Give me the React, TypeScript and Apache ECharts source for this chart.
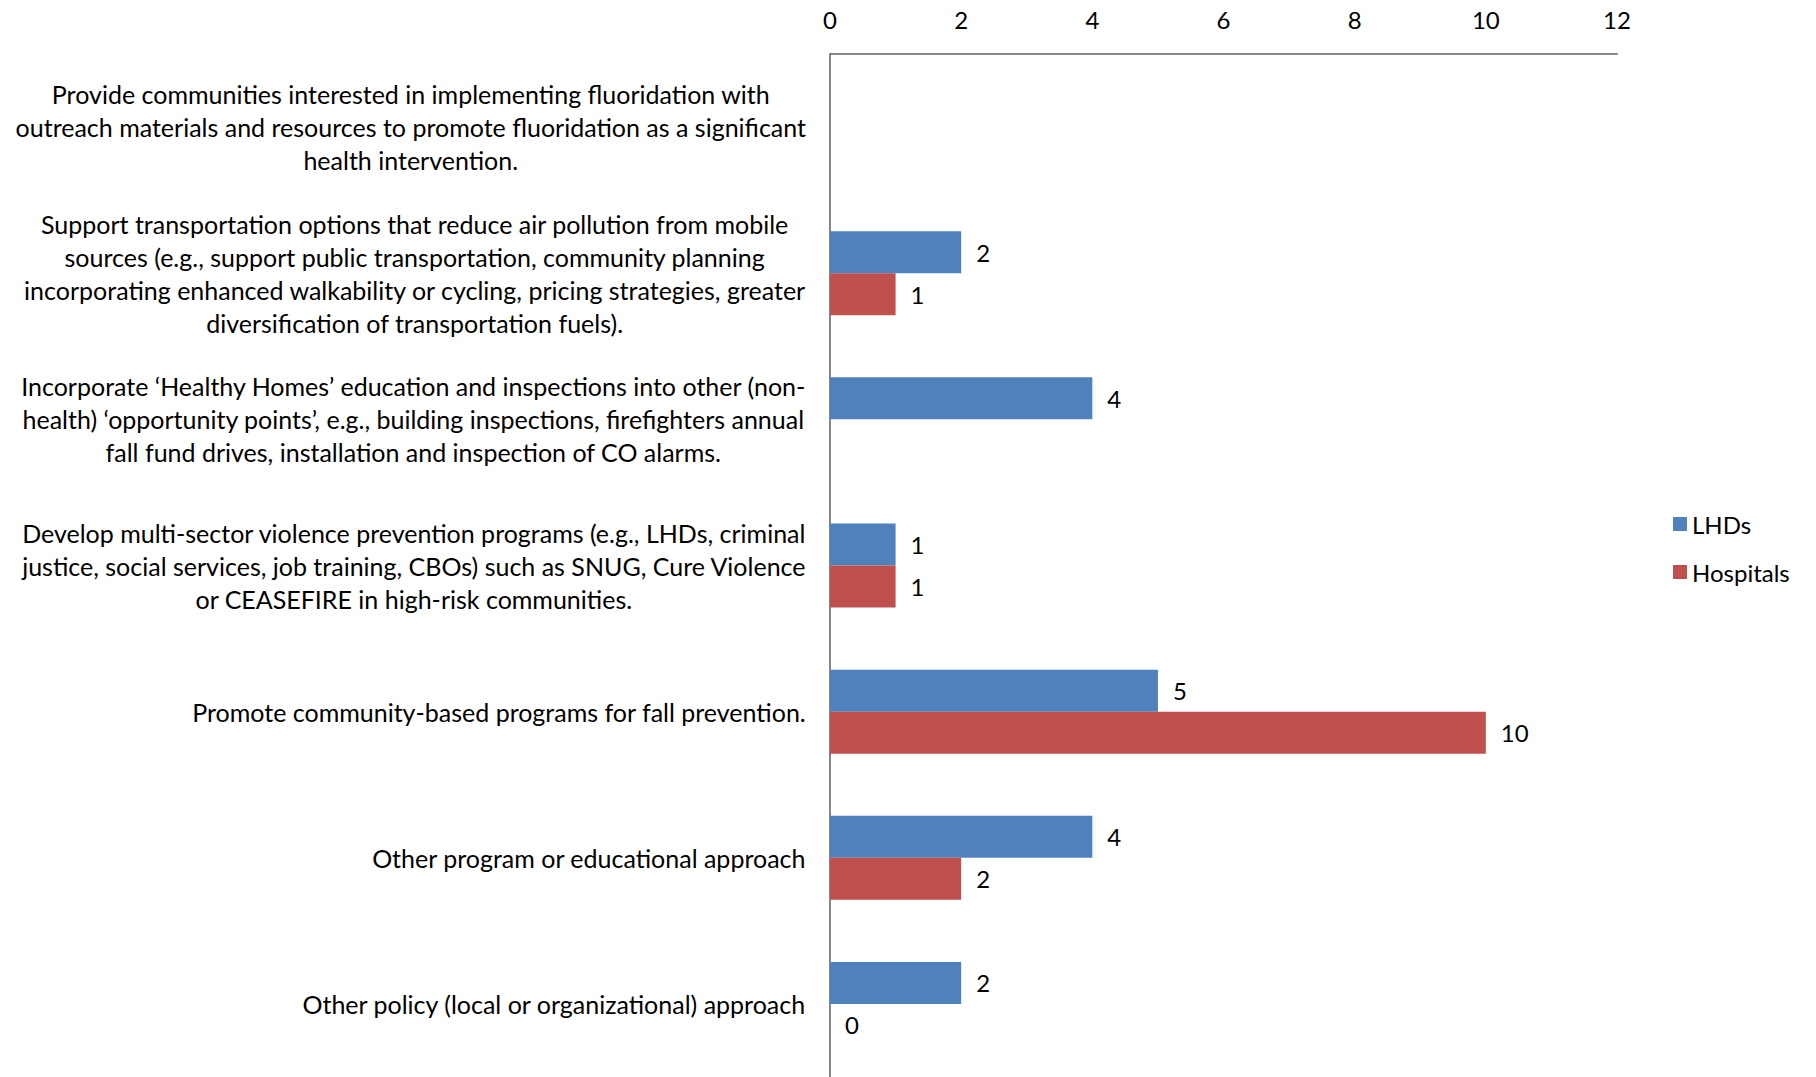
import React, { useEffect, useRef } from "react";
import * as echarts from "echarts";

const categories: string[] = [
  "Provide communities interested in implementing fluoridation with\noutreach materials and resources to promote fluoridation as a significant\nhealth intervention.",
  "Support transportation options that reduce air pollution from mobile\nsources (e.g., support public transportation, community planning\nincorporating enhanced walkability or cycling, pricing strategies, greater\ndiversification of transportation fuels).",
  "Incorporate \u2018Healthy Homes\u2019 education and inspections into other (non-\nhealth) \u2018opportunity points\u2019, e.g., building inspections, firefighters annual\nfall fund drives, installation and inspection of CO alarms.",
  "Develop multi-sector violence prevention programs (e.g., LHDs, criminal\njustice, social services, job training, CBOs) such as SNUG, Cure Violence\nor CEASEFIRE in high-risk communities.",
  "Promote community-based programs for fall prevention.",
  "Other program or educational approach",
  "Other policy (local or organizational) approach",
];

const lhds: (number | null)[] = [null, 2, 4, 1, 5, 4, 2];
const hospitals: (number | null)[] = [null, 1, null, 1, 10, 2, 0];

const xTicks = { min: 0, max: 12, interval: 2 };

const FONT = "Lato";
const FS = 24;
const CAT_FS = 25;

export default function App() {
  const ref = useRef<HTMLDivElement>(null);
  useEffect(() => {
    if (!ref.current) return;
    const chart = echarts.init(ref.current, undefined, { renderer: "svg" });
    const labelStyle = {
      show: true,
      position: "right" as const,
      distance: 15,
      color: "#000",
      fontFamily: FONT,
      fontSize: FS,
    };
    chart.setOption({
      animation: false,
      backgroundColor: "#fff",
      textStyle: { fontFamily: FONT },
      legend: {
        orient: "vertical",
        left: 1668,
        top: 507,
        itemWidth: 14,
        itemHeight: 14,
        itemGap: 24,
        icon: "rect",
        textStyle: { fontFamily: FONT, fontSize: FS, color: "#000", padding: [0, 0, 0, 0] },
        data: ["LHDs", "Hospitals"],
      },
      grid: { left: 830, top: 54, width: 787, height: 1027, containLabel: false },
      xAxis: {
        type: "value",
        position: "top",
        min: xTicks.min,
        max: xTicks.max,
        interval: xTicks.interval,
        axisLine: { show: true, lineStyle: { color: "#868686", width: 2 } },
        axisTick: { show: false },
        splitLine: { show: false },
        axisLabel: { color: "#000", fontFamily: FONT, fontSize: FS, margin: 23 },
      },
      yAxis: {
        type: "category",
        inverse: true,
        data: categories,
        axisLine: { show: true, lineStyle: { color: "#868686", width: 2 } },
        axisTick: { show: false },
        axisLabel: {
          margin: 24,
          color: "#000",
          fontFamily: FONT,
          fontSize: CAT_FS,
          lineHeight: 33,
          align: "right",
          formatter: (v: string) =>
            v
              .split("\n")
              .map((l) => `{c|${l}}`)
              .join("\n"),
          rich: {
            c: { align: "center", fontFamily: FONT, fontSize: CAT_FS, lineHeight: 33, color: "#000" },
          },
        },
      },
      series: [
        {
          name: "LHDs",
          type: "bar",
          data: lhds,
          barWidth: 42,
          barGap: "0%",
          itemStyle: { color: "#4F81BD" },
          label: labelStyle,
        },
        {
          name: "Hospitals",
          type: "bar",
          data: hospitals,
          barWidth: 42,
          barGap: "0%",
          itemStyle: { color: "#C0504D" },
          label: labelStyle,
        },
      ],
    });
    return () => chart.dispose();
  }, []);
  return (
    <div
      ref={ref}
      style={{ position: "fixed", left: 0, top: 0, width: 1816, height: 1077 }}
    />
  );
}
